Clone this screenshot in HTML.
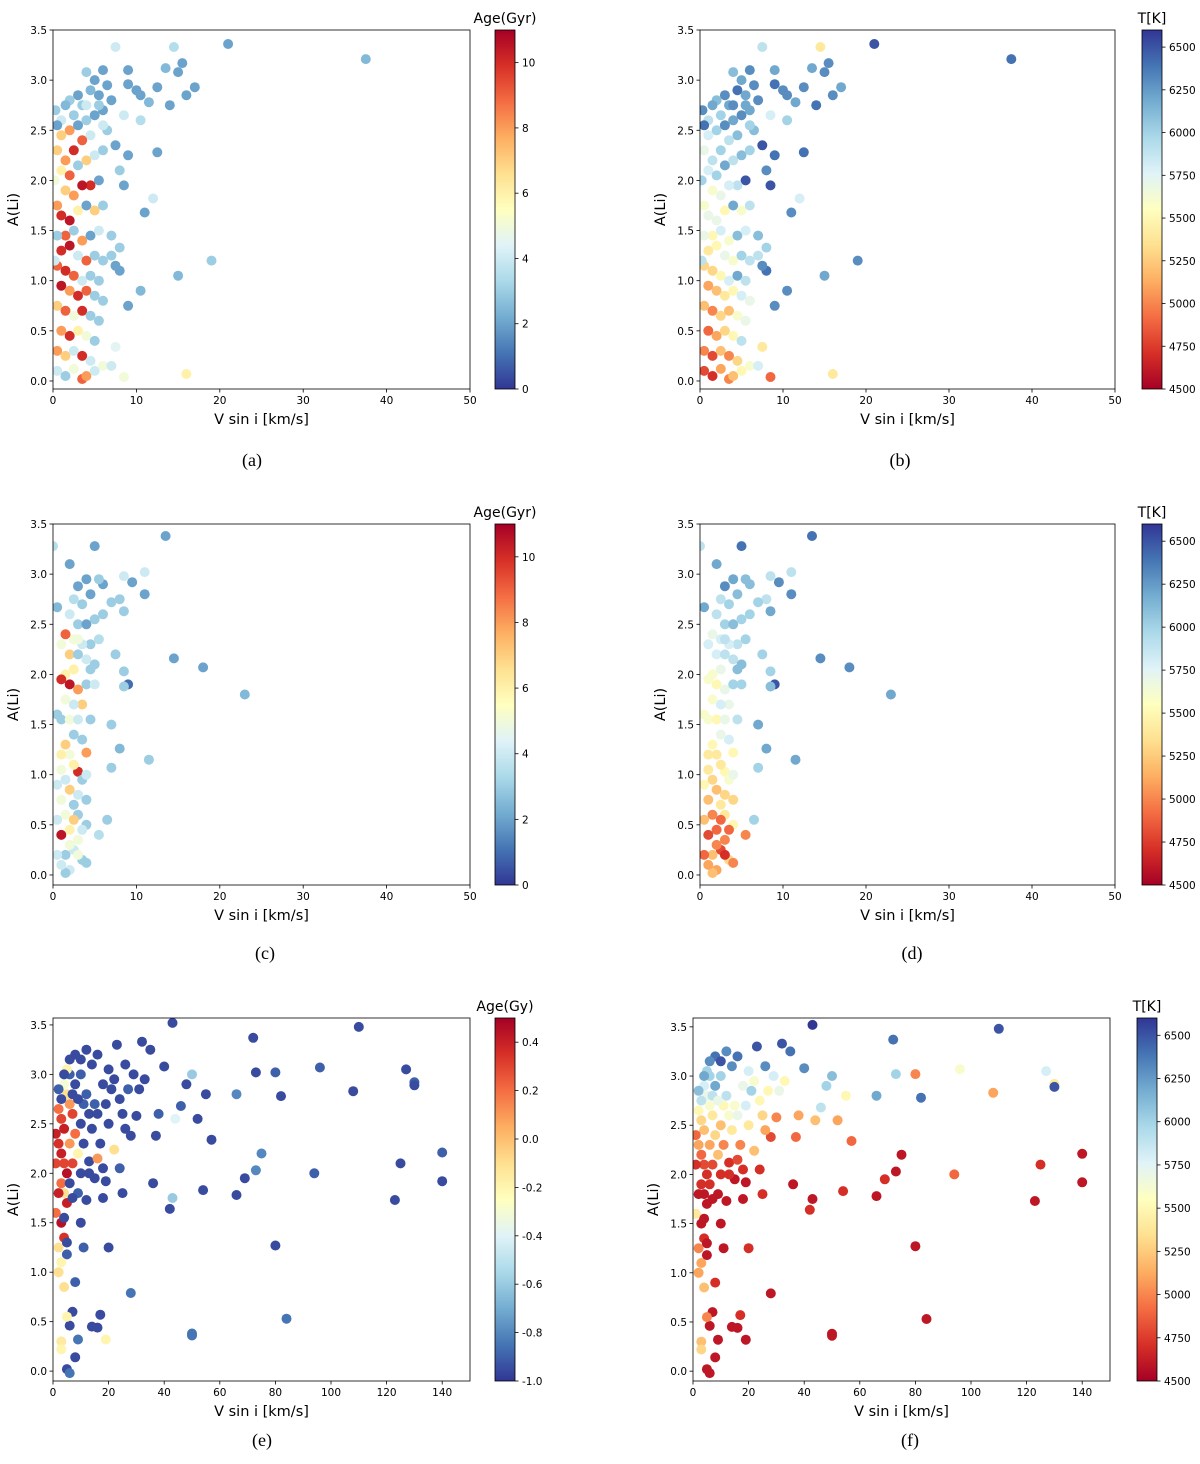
<!DOCTYPE html>
<html><head><meta charset="utf-8">
<style>
html,body{margin:0;padding:0;background:#fff;}
svg{display:block;}
</style></head>
<body>
<svg id="fig" width="1200" height="1464" viewBox="0 0 1200 1464" xmlns="http://www.w3.org/2000/svg">
<defs>
<linearGradient id="gAge" x1="0" y1="0" x2="0" y2="1"></linearGradient>
<linearGradient id="gT" x1="0" y1="1" x2="0" y2="0"></linearGradient>
</defs>
</svg>
<script>
// ---- Dataset 1 (panels a,b) ----
const vsini1=[21,37.5,14.5,7.5,15.5,15,13.5,17,16,14,12.5,11.5,10,10.5,9,9,12.5,12,11,10.5,15,19,16,8.5,7.5,8,8,9,8,9,8.5,7.5,8.5,7,10.5,
6,5,4,3,4.5,5.5,6.5,3.5,2,1.5,2.5,1,0.5,1,2,3,4,5,6,4.5,3.5,2.5,1.5,0.5,1,2,3,4,5,6,5.5,4.5,3.5,2.5,1.5,0.5,1,2,3,4,5,6,1.5,2.5,3.5,4.5,5.5,0.5,1,2,3,4,5,6,7,0.5,1.5,2.5,3.5,4.5,5.5,1,2,3,4,5,6,0.5,1.5,2.5,3.5,4.5,5.5,1,2,3,4,5,0.5,1.5,2.5,3.5,4.5,6,0.5,1.5,2.5,3.5,4,5,7,6.5,6,0.3,0.2,0.2,7,7.5,5.5,4];
const ali1=[3.36,3.21,3.33,3.33,3.17,3.08,3.12,2.93,2.85,2.75,2.93,2.78,2.9,2.85,3.1,2.96,2.28,1.82,1.68,0.9,1.05,1.2,0.07,0.04,0.34,1.33,1.1,0.75,2.1,2.25,1.95,2.35,2.65,2.8,2.6,
3.1,3.0,3.08,2.85,2.9,2.85,2.95,2.75,2.8,2.75,2.65,2.6,2.55,2.45,2.5,2.55,2.6,2.65,2.7,2.45,2.4,2.3,2.2,2.3,2.1,2.05,2.15,2.2,2.25,2.3,2.0,1.95,1.95,1.85,1.9,1.75,1.65,1.6,1.7,1.75,1.7,1.75,1.45,1.5,1.4,1.45,1.5,1.45,1.3,1.35,1.25,1.2,1.25,1.2,1.25,1.15,1.1,1.05,1.0,1.05,1.0,0.95,0.9,0.85,0.9,0.85,0.8,0.75,0.7,0.65,0.7,0.65,0.6,0.5,0.45,0.5,0.45,0.4,0.3,0.25,0.3,0.25,0.2,0.15,0.1,0.05,0.12,0.02,0.05,0.1,0.15,2.5,2.55,2.7,2.0,1.2,1.45,1.15,2.75,2.75];
const age1=[2,2.5,3.5,4,2,2,2.5,2,2,2,2,2.5,2,2,2,2,2,4,2,2.5,2.5,3,6,5,4.5,3,2,2,3,2,2,2,4,2,3.5,
2,2,3,2,2.5,2,2,3,3,2.5,3,4,2,7,8,2,3,2,2,4,9,10,8,7,6,9,3,7,4,3,2,10,10.5,8,7,8,10,10.5,6,2,7,3,9,3,8,2,4,3,10,10.5,4,9,3,3,3,9,10,9,4,3,3,10.5,8,10,9,3,3,7,9,5,10,3,3,8,10,6,5,3,8,7,4,10,4,5,4,3,5,9,8,4,4,3,4,3,5,4,3,2,3,4];
const teff1=[6500,6400,5400,5900,6300,6300,6200,6200,6300,6400,6300,6200,6300,6300,6200,6400,6400,5800,6300,6300,6200,6300,5400,4900,5400,6000,6400,6300,6300,6400,6500,6500,5800,6300,6000,
6300,6200,6100,6300,6400,6200,6300,6200,6100,6200,6000,5900,6400,5800,6000,6300,6200,6300,6200,6100,5900,6000,5900,5700,5800,6000,6200,5900,6100,6000,6500,5900,5800,5700,5600,5600,5700,5700,5500,6200,5600,5900,5500,5800,5600,6100,5800,5700,5400,5500,5700,5600,6000,5900,5900,5300,5300,5500,5800,6200,5900,5100,5200,5400,5500,5800,5700,5200,5000,5300,5200,5600,5700,4900,5100,5300,5500,5900,5000,4800,5200,5000,5300,5600,4800,4700,5100,5000,5200,5500,5800,6100,6000,6300,6000,5900,6100,6300,6200,6300];

// ---- Dataset 2 (panels c,d) ----
const vsini2=[13.5,5,0,2,11,8.5,9.5,11,14.5,18,23,9,8.5,8.5,7.5,7,7,8,11.5,6.5,5.5,0.5,8.5,8,7,6,5.5,4,3,
4.5,3.5,2.5,2,3,4,5,6,5.5,4.5,3.5,2.5,1.5,2,3,4,5,2.5,1.5,1,2,3,4,3.5,2.5,1.5,1,2,3,2.5,1.5,3.5,4,2,3,2.5,1,1.5,3.5,4,2,3,1,2.5,4,1.5,3,0.5,2,4,1,3,2.5,1.5,0.5,3.5,4,2,1.5,3,2.5,0.5,0.5,1,4.5,5,4.5,3,1,3.5,2,1];
const ali2=[3.38,3.28,3.28,3.1,3.02,2.98,2.92,2.8,2.16,2.07,1.8,1.9,2.03,1.88,2.2,1.5,1.07,1.26,1.15,0.55,0.4,2.67,2.63,2.75,2.72,2.9,2.95,2.95,2.88,
2.8,2.7,2.75,2.6,2.5,2.5,2.55,2.6,2.35,2.3,2.3,2.35,2.4,2.2,2.2,2.15,2.1,2.05,2.0,1.95,1.9,1.85,1.9,1.7,1.7,1.75,1.55,1.55,1.55,1.4,1.3,1.35,1.22,1.2,1.03,1.1,1.05,0.95,0.95,1.0,0.85,0.8,0.75,0.7,0.75,0.6,0.6,0.55,0.45,0.5,0.4,0.35,0.25,0.2,0.2,0.15,0.12,0.05,0.02,0.2,0.55,1.6,0.9,2.3,1.55,1.9,2.05,2.35,1.2,0.45,0.3,0.1];
const age2=[2,2,3.5,2,4,4,2,2,2,2,2.5,1,3,3,3,3,3,2.5,3,3,3.5,2.5,3,3,3,2,3,2,2,
2,3,3.5,4,3,2,3,3,3.5,3,4,5,9,7,3,4,3,6,6,10,10.5,8,3,7,4,5,3,5,4,3,7,3,8,5,10,6,5,4,3,4,7,4,5,3,3,5,3,4,6,3,10.5,5,4,3,4,3,3,4,3,5,7,3,4,5,3,4,3,5,6,4,5,4];
const teff2=[6400,6400,5900,6200,5900,5900,6300,6300,6300,6300,6200,6500,6000,6100,6000,6200,6000,6200,6200,6000,5000,6200,6200,5900,6000,6100,6100,6200,6300,
6100,6000,5900,5900,6000,6100,6000,6000,6000,5900,5800,5800,5700,5800,5900,5900,6100,5700,5600,5600,5500,5700,6000,5700,5800,5600,5600,5500,5700,5700,5500,5800,5500,5400,5500,5400,5400,5300,5600,5700,5200,5300,5200,5400,5300,5000,5400,5200,4900,5500,4800,5000,4800,5200,4900,5300,5000,5100,5200,4700,4900,5600,5500,5800,5900,6000,6100,5900,5400,4900,5000,5100];

// ---- Dataset 3 (panels e,f) ----
const vsini3=[72,43,110,96,108,127,130,130,140,140,125,123,94,80,84,50,28,82,80,73,66,75,73,69,66,54,57,52,55,50,48,46,44,43,42,40,38,37,36,35,33,32,30,28,27,25,24,23,22,20,20,19,18,17,16,15,14,13,12,11,10,9,8,8,7,6,5,5,6,10,12,14,16,18,15,12,10,8,6,
2,3,4,2,3,4,5,3,4,5,3,4,2,3,4,5,3,3,6,5,4,5,7,8,6,7,9,10,11,13,7,9,8,10,6,4,3,2,9,7,6,11,13,14,16,19,21,24,26,29,31,25,20,17,4,5,1,1,2,2,1,16,18,19,22,26,50];
const ali3=[3.37,3.52,3.48,3.07,2.83,3.05,2.92,2.89,2.21,1.92,2.1,1.73,2.0,1.27,0.53,0.38,0.79,2.78,3.02,3.02,2.8,2.2,2.03,1.95,1.78,1.83,2.34,2.55,2.8,3.0,2.9,2.68,2.55,1.75,1.64,3.08,2.6,2.38,1.9,3.25,2.95,3.33,2.58,2.38,2.85,1.8,2.05,3.3,2.95,1.25,3.05,1.92,1.75,0.57,0.44,1.95,0.45,2.12,1.73,1.25,1.5,0.32,0.9,0.14,0.6,0.46,1.18,0.02,-0.02,2.5,2.8,3.1,3.2,2.9,2.7,3.25,3.0,3.2,3.0,
2.65,2.55,2.45,2.3,2.2,2.1,2.0,1.9,1.8,1.7,1.5,1.35,1.25,1.1,0.85,0.55,0.3,0.22,2.7,2.8,2.9,3.05,2.6,2.4,2.3,2.1,2.2,2.0,2.7,2.6,2.8,2.75,2.9,3.15,3.15,3.0,2.75,2.85,1.8,1.75,1.9,2.3,2.0,2.45,2.6,2.7,2.85,2.75,3.1,3.0,2.85,2.6,2.5,2.3,1.55,1.3,2.1,2.4,1.8,1.0,1.6,2.15,2.05,0.32,2.24,2.45,0.36];
const age3=[-0.95,-0.95,-0.95,-0.9,-0.95,-0.95,-0.9,-0.95,-0.9,-0.95,-0.95,-0.95,-0.9,-0.95,-0.85,-0.85,-0.85,-0.95,-0.9,-0.95,-0.8,-0.8,-0.8,-0.95,-0.95,-0.95,-0.95,-0.95,-0.95,-0.6,-0.95,-0.9,-0.4,-0.6,-0.95,-0.95,-0.9,-0.95,-0.95,-0.95,-0.95,-0.95,-0.95,-0.95,-0.9,-0.95,-0.9,-0.95,-0.95,-0.95,-0.95,-0.95,-0.95,-0.95,-0.95,-0.95,-0.95,-0.95,-0.95,-0.9,-0.95,-0.85,-0.9,-0.95,-0.95,-0.95,-0.9,-0.95,-0.85,-0.95,-0.9,-0.95,-0.95,-0.95,-0.9,-0.95,-0.9,-0.95,-0.9,
0.2,0.3,0.4,0.35,0.4,0.3,0.45,0.2,-0.1,0.4,0.45,0.35,-0.1,-0.2,-0.1,-0.2,-0.15,-0.2,0.1,-0.1,-0.3,-0.2,0.3,0.2,0.1,0.3,-0.2,-0.95,-0.9,-0.95,-0.95,-0.95,-0.95,-0.95,-0.95,-0.95,-0.95,-0.9,-0.9,-0.95,-0.95,-0.95,-0.95,-0.95,-0.95,-0.95,-0.95,-0.95,-0.95,-0.95,-0.95,-0.95,-0.95,-0.95,-0.95,-0.95,0.3,0.4,0.4,-0.1,0.2,0.1,-0.95,-0.2,-0.1,-0.95,-0.85];
const teff3=[6400,6600,6500,5600,5100,5800,5400,6500,4600,4600,4700,4600,4900,4600,4600,4600,4600,6400,5000,6000,6200,4600,4600,4700,4600,4700,4900,5100,5500,6100,6000,5900,5200,4600,4700,6300,5100,4900,4600,6400,5500,6500,5000,4800,5500,4700,4700,6500,5600,4700,5800,4600,4600,4700,4600,4600,4600,4700,4600,4600,4600,4600,4700,4600,4600,4600,4600,4600,4600,5200,5900,6300,6400,5700,5600,6300,6000,6400,6000,
5500,5300,5200,5100,4900,4800,4700,4700,4600,4600,4600,4700,5000,5100,5200,5000,5200,5300,5600,5700,5800,6000,5400,5300,5100,4800,5200,4700,5500,5600,5900,5700,6200,6500,6300,6200,5900,6100,4600,4600,4700,5000,4700,5400,5700,5800,6000,5500,6300,5800,5700,5300,5400,5000,4600,4600,4700,4900,4600,5100,5400,4800,4700,4600,5200,5100,4600];

// ---- Colorbar ticks ----
const ageTicks=[0,2,4,6,8,10];
const teffTicks=[4500,4750,5000,5250,5500,5750,6000,6250,6500];
const logAgeTicks=[-1.0,-0.8,-0.6,-0.4,-0.2,0.0,0.2,0.4];
const xTicks50=[0,10,20,30,40,50];
const xTicks150=[0,20,40,60,80,100,120,140];
const yTicks=[0.0,0.5,1.0,1.5,2.0,2.5,3.0,3.5];

const stops=['#a50026','#d73027','#f46d43','#fdae61','#fee090','#ffffbf','#e0f3f8','#abd9e9','#74add1','#4575b4','#313695'];
function hex(c){return [parseInt(c.substr(1,2),16),parseInt(c.substr(3,2),16),parseInt(c.substr(5,2),16)];}
function rdylbu(t){t=Math.max(0,Math.min(1,t));const f=t*10,i=Math.min(9,Math.floor(f)),u=f-i;const a=hex(stops[i]),b=hex(stops[i+1]);
return 'rgb('+a.map((v,k)=>Math.round(v+(b[k]-v)*u)).join(',')+')';}

const NS='http://www.w3.org/2000/svg';
const svg=document.getElementById('fig');
function el(tag,attrs,parent){const e=document.createElementNS(NS,tag);for(const k in attrs)e.setAttribute(k,attrs[k]);(parent||svg).appendChild(e);return e;}

['gAge','gT'].forEach(id=>{const g=document.getElementById(id);stops.forEach((c,i)=>{el('stop',{offset:(i*10)+'%','stop-color':c},g);});});

const FONT='"DejaVu Sans","Liberation Sans",sans-serif';

function panel(cfg){
  const g=el('g',{});
  
  
  const sx=v=>cfg.x0+(v-0)/(cfg.xmax)*(cfg.x1-cfg.x0);
  const sy=v=>cfg.y1-(v-cfg.ymin)/(cfg.ymax-cfg.ymin)*(cfg.y1-cfg.y0);
  const clip=el('clipPath',{id:'clip'+cfg.id},g);
  el('rect',{x:cfg.x0,y:cfg.y0,width:cfg.x1-cfg.x0,height:cfg.y1-cfg.y0},clip);
  const pts=el('g',{'clip-path':'url(#clip'+cfg.id+')'},g);
  
  
  for(let i=0;i<cfg.xs.length;i++){
    let t=(cfg.cs[i]-cfg.cmin)/(cfg.cmax-cfg.cmin);
    if(cfg.rev)t=1-t;
    const c=el('circle',{cx:sx(cfg.xs[i]).toFixed(1),cy:sy(cfg.ys[i]).toFixed(1),r:5,fill:rdylbu(t)},pts);
    
    
  }
  const fr=el('rect',{x:cfg.x0,y:cfg.y0,width:cfg.x1-cfg.x0,height:cfg.y1-cfg.y0,fill:'none',stroke:'#000','stroke-width':0.8},g);
  
  
  cfg.xt.forEach(v=>{const x=sx(v);el('line',{x1:x,x2:x,y1:cfg.y1,y2:cfg.y1+3.5,stroke:'#000','stroke-width':0.8},g);
    const t=el('text',{x:x,y:cfg.y1+15,'font-size':10.5,'font-family':FONT,'text-anchor':'middle'},g);t.textContent=v;
    });
  yTicks.forEach(v=>{const y=sy(v);el('line',{x1:cfg.x0-3.5,x2:cfg.x0,y1:y,y2:y,stroke:'#000','stroke-width':0.8},g);
    const t=el('text',{x:cfg.x0-6,y:y+4,'font-size':10.5,'font-family':FONT,'text-anchor':'end'},g);t.textContent=v.toFixed(1);
    });
  const xl=el('text',{x:(cfg.x0+cfg.x1)/2,y:cfg.y1+35,'font-size':14.5,'font-family':FONT,'text-anchor':'middle'},g);xl.textContent='V sin i [km/s]';
  
  const ly=(cfg.y0+cfg.y1)/2;
  const yl=el('text',{x:cfg.x0-35,y:ly,'font-size':14.5,'font-family':FONT,'text-anchor':'middle',transform:'rotate(-90 '+(cfg.x0-35)+' '+ly+')'},g);yl.textContent='A(Li)';
  
  const cb=el('g',{},g);
  
  
  el('rect',{x:cfg.cbx,y:cfg.y0,width:20,height:cfg.y1-cfg.y0,fill:'url(#'+(cfg.rev?'gAge':'gT')+')',stroke:'#000','stroke-width':0.8},cb);
  const cy=v=>cfg.y1-(v-cfg.cmin)/(cfg.cmax-cfg.cmin)*(cfg.y1-cfg.y0);
  cfg.ct.forEach(v=>{const y=cy(v);el('line',{x1:cfg.cbx+20,x2:cfg.cbx+23.5,y1:y,y2:y,stroke:'#000','stroke-width':0.8},cb);
    const t=el('text',{x:cfg.cbx+27,y:y+4,'font-size':10.5,'font-family':FONT},cb);t.textContent=cfg.cfmt(v);
    });
  const cl=el('text',{x:cfg.cbx+10,y:cfg.y0-7,'font-size':14,'font-family':FONT,'text-anchor':'middle'},cb);cl.textContent=cfg.clabel;
  
  const cap=el('text',{x:cfg.capx,y:cfg.capy,'font-size':18,'font-family':'"Liberation Serif",serif','text-anchor':'middle'},g);cap.textContent='('+cfg.id+')';
  
}
const fInt=v=>String(v), fLog=v=>v.toFixed(1);
panel({id:'a',x0:53,x1:470,y0:30,y1:389,xmax:50,ymin:-0.08,ymax:3.5,xt:xTicks50,xs:vsini1,ys:ali1,cs:age1,cmin:0,cmax:11,rev:true,cbx:495,ct:ageTicks,cfmt:fInt,clabel:'Age(Gyr)',capx:252,capy:466});
panel({id:'b',x0:700,x1:1115,y0:30,y1:389,xmax:50,ymin:-0.08,ymax:3.5,xt:xTicks50,xs:vsini1,ys:ali1,cs:teff1,cmin:4500,cmax:6600,rev:false,cbx:1142,ct:teffTicks,cfmt:fInt,clabel:'T[K]',capx:900,capy:466});
panel({id:'c',x0:53,x1:470,y0:524,y1:885,xmax:50,ymin:-0.1,ymax:3.5,xt:xTicks50,xs:vsini2,ys:ali2,cs:age2,cmin:0,cmax:11,rev:true,cbx:495,ct:ageTicks,cfmt:fInt,clabel:'Age(Gyr)',capx:265,capy:959});
panel({id:'d',x0:700,x1:1115,y0:524,y1:885,xmax:50,ymin:-0.1,ymax:3.5,xt:xTicks50,xs:vsini2,ys:ali2,cs:teff2,cmin:4500,cmax:6600,rev:false,cbx:1142,ct:teffTicks,cfmt:fInt,clabel:'T[K]',capx:912,capy:959});
panel({id:'e',x0:53,x1:470,y0:1018,y1:1381,xmax:150,ymin:-0.1,ymax:3.57,xt:xTicks150,xs:vsini3,ys:ali3,cs:age3,cmin:-1.0,cmax:0.5,rev:true,cbx:495,ct:logAgeTicks,cfmt:fLog,clabel:'Age(Gy)',capx:262,capy:1446});
panel({id:'f',x0:693,x1:1110,y0:1018,y1:1381,xmax:150,ymin:-0.1,ymax:3.59,xt:xTicks150,xs:vsini3,ys:ali3,cs:teff3,cmin:4500,cmax:6600,rev:false,cbx:1137,ct:teffTicks,cfmt:fInt,clabel:'T[K]',capx:910,capy:1446});
</script>
</body></html>
